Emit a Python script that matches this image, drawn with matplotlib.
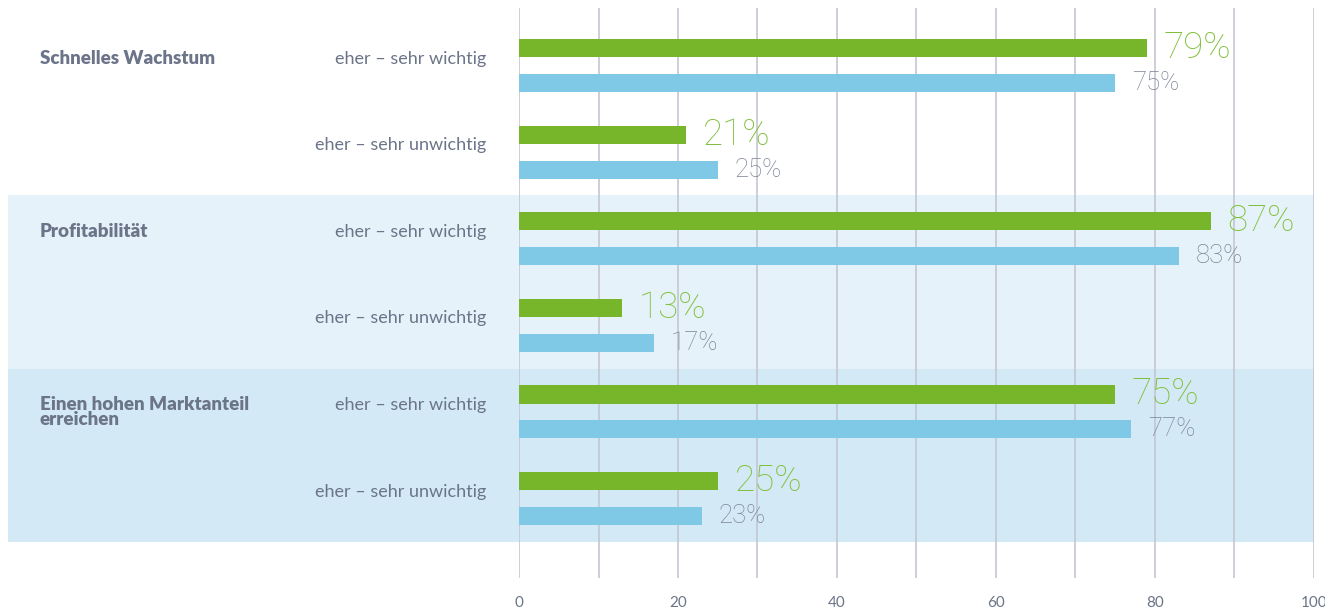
import matplotlib.pyplot as plt
import numpy as np
from matplotlib.patches import Rectangle
from matplotlib.transforms import blended_transform_factory

plt.rcParams['font.family'] = ['Lato', 'DejaVu Sans']

themen = ['Schnelles Wachstum', 'Profitabilität', 'Einen hohen Marktanteil\nerreichen']
antworten = ['eher – sehr wichtig', 'eher – sehr unwichtig']
werte_gruen = [79, 21, 87, 13, 75, 25]
werte_blau = [75, 25, 83, 17, 77, 23]
band_farben = ['#ffffff', '#e6f2fa', '#d3e9f5']

GRUEN = '#77b52a'
GRUEN_TEXT = '#80c03c'
BLAU = '#7fc9e6'
GRAU = '#6b7488'
GRAU_WERT = '#7d8497'
GITTER = '#c3c6d2'

W, H = 1325, 611
fig = plt.figure(figsize=(W / 100, H / 100), dpi=100)
ax = fig.add_axes([519 / W, (H - 578) / H, 795 / W, 570 / H])
ax.patch.set_alpha(0)

zeilen = np.arange(len(werte_gruen))
versatz = 0.202
hoehe = 0.21
ax.barh(zeilen - versatz, werte_gruen, height=hoehe, color=GRUEN, zorder=3)
ax.barh(zeilen + versatz, werte_blau, height=hoehe, color=BLAU, zorder=3)

ax.set_xlim(0, 100)
ax.set_ylim(5.918, -0.664)

# Hintergrundbänder je Thema, links bis zum Rand der Grafik
band_trans = blended_transform_factory(fig.transFigure, ax.transData)
for i, farbe in enumerate(band_farben):
    ax.add_patch(Rectangle((8 / W, 2 * i - 0.5), (1314 - 8) / W, 2,
                           transform=band_trans, facecolor=farbe,
                           edgecolor='none', zorder=0.5, clip_on=False))

# Prozentwerte neben den Balken (dünner Schnitt)
wert_font = ['Roboto', 'Lato']
for z, (g, b) in enumerate(zip(werte_gruen, werte_blau)):
    ax.annotate(f'{g}%', (g, z - versatz), xytext=(12, 0), textcoords='offset points',
                va='center', ha='left', fontsize=26.5, fontweight='light',
                family=wert_font, color=GRUEN_TEXT, zorder=4)
    ax.annotate(f'{b}%', (b, z + versatz), xytext=(12, 0), textcoords='offset points',
                va='center', ha='left', fontsize=18.5, fontweight='light',
                family=wert_font, color=GRAU_WERT, zorder=4)

# Beschriftung links: Thema und Antwortkategorie
for i, thema in enumerate(themen):
    ax.text(40 / W, 2 * i - 0.18, thema, transform=band_trans, ha='left', va='top',
            fontsize=13.5, fontweight='heavy', color=GRAU, linespacing=0.8)
    for j, antwort in enumerate(antworten):
        ax.text(486 / W, 2 * i + j - 0.08, antwort, transform=band_trans,
                ha='right', va='center', fontsize=13, color=GRAU)

ax.set_xticks(np.arange(0, 101, 20))
ax.set_xticks(np.arange(10, 100, 20), minor=True)
ax.set_yticks([])
ax.grid(axis='x', which='both', color=GITTER, linewidth=1.2, zorder=1)
ax.tick_params(axis='x', which='both', length=0, pad=13, labelsize=11, labelcolor=GRAU)
for s in ax.spines.values():
    s.set_visible(False)

fig.savefig('out.png', dpi=100, facecolor='white')
